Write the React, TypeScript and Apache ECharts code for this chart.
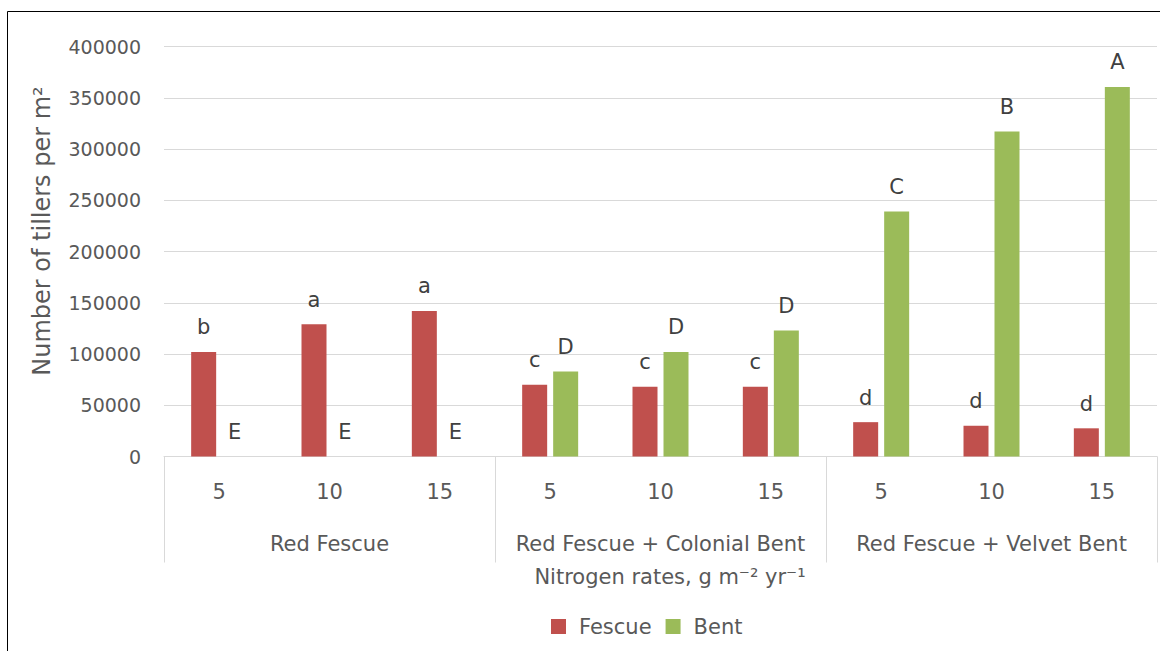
import React, { useEffect, useRef } from "react";
import * as echarts from "echarts";

const groups = ["Red Fescue", "Red Fescue + Colonial Bent", "Red Fescue + Velvet Bent"];
const rates = ["5", "10", "15"];
const fescue = [102000, 129000, 142000, 70000, 68000, 68000, 33500, 30000, 27500];
const bent = [0, 0, 0, 83000, 102000, 123000, 239000, 317000, 360500];
const fescueLetters = ["b", "a", "a", "c", "c", "c", "d", "d", "d"];
const bentLetters = ["E", "E", "E", "D", "D", "D", "C", "B", "A"];
const yTicks = { min: 0, max: 400000, interval: 50000 };

const FONT = "DejaVu Sans";
const GREY = "#595959";

export default function App() {
  const ref = useRef<HTMLDivElement>(null);
  useEffect(() => {
    if (!ref.current) return;
    const chart = echarts.init(ref.current, null, { renderer: "svg" });
    const categories: string[] = [];
    groups.forEach((g, gi) => rates.forEach((r) => categories.push(gi + "|" + r)));
    const labelStyle = {
      show: true,
      position: "top" as const,
      distance: 14,
      fontSize: 21,
      fontFamily: FONT,
      color: "#404040",
    };
    chart.setOption({
      animation: false,
      textStyle: { fontFamily: FONT },
      grid: { left: 164, right: 3, top: 46.5, height: 410 },
      legend: {
        data: ["Fescue", "Bent"],
        left: 546,
        top: 611,
        icon: "rect",
        itemWidth: 15,
        itemHeight: 15,
        itemGap: 14,
        textStyle: { fontSize: 21, color: GREY, fontFamily: FONT, padding: [0, 0, 0, 8] },
      },
      xAxis: [
        {
          type: "category",
          data: categories,
          axisLine: { show: true, lineStyle: { color: "#D9D9D9", width: 1 } },
          axisTick: { show: false },
          axisLabel: {
            formatter: (v: string) => v.split("|")[1],
            fontSize: 21,
            color: GREY,
            fontFamily: FONT,
            margin: 25,
            interval: 0,
          },
        },
        {
          type: "category",
          data: groups,
          position: "bottom",
          offset: 0,
          axisLine: { show: false },
          axisTick: { show: true, length: 106, interval: 0, lineStyle: { color: "#D9D9D9", width: 1 } },
          axisLabel: { fontSize: 21, color: GREY, fontFamily: FONT, margin: 77, interval: 0 },
        },
      ],
      yAxis: {
        type: "value",
        min: yTicks.min,
        max: yTicks.max,
        interval: yTicks.interval,
        axisLine: { show: false },
        axisTick: { show: false },
        splitLine: { lineStyle: { color: "#D9D9D9", width: 1 } },
        axisLabel: {
          fontSize: 19,
          color: GREY,
          fontFamily: FONT,
          margin: 23,
          formatter: (v: number) => String(v),
        },
      },
      series: [
        {
          name: "Fescue",
          type: "bar",
          data: fescue,
          barWidth: 25,
          barGap: "24%",
          itemStyle: { color: "#C0504D" },
          label: { ...labelStyle, formatter: (p: any) => fescueLetters[p.dataIndex] },
        },
        {
          name: "Bent",
          type: "bar",
          data: bent,
          barWidth: 25,
          itemStyle: { color: "#9BBB59" },
          label: { ...labelStyle, formatter: (p: any) => bentLetters[p.dataIndex] },
        },
      ],
      graphic: [
        {
          type: "rect",
          shape: { x: 7.5, y: 11.5, width: 1160, height: 660 },
          style: { fill: "none", stroke: "#000", lineWidth: 1 },
          silent: true,
        },
        {
          type: "text",
          x: 42,
          y: 231,
          rotation: Math.PI / 2,
          style: {
            text: "Number of tillers per m²",
            fontSize: 24,
            fontFamily: FONT,
            fill: GREY,
            align: "center",
            verticalAlign: "middle",
          },
        },
        {
          type: "text",
          x: 670,
          y: 577,
          style: {
            text: "Nitrogen rates, g m⁻² yr⁻¹",
            fontSize: 21,
            fontFamily: FONT,
            fill: GREY,
            align: "center",
            verticalAlign: "middle",
          },
        },
      ],
    });
    return () => chart.dispose();
  }, []);
  return (
    <div
      ref={ref}
      style={{ position: "fixed", left: 0, top: 0, width: 1160, height: 651, background: "#fff" }}
    />
  );
}
